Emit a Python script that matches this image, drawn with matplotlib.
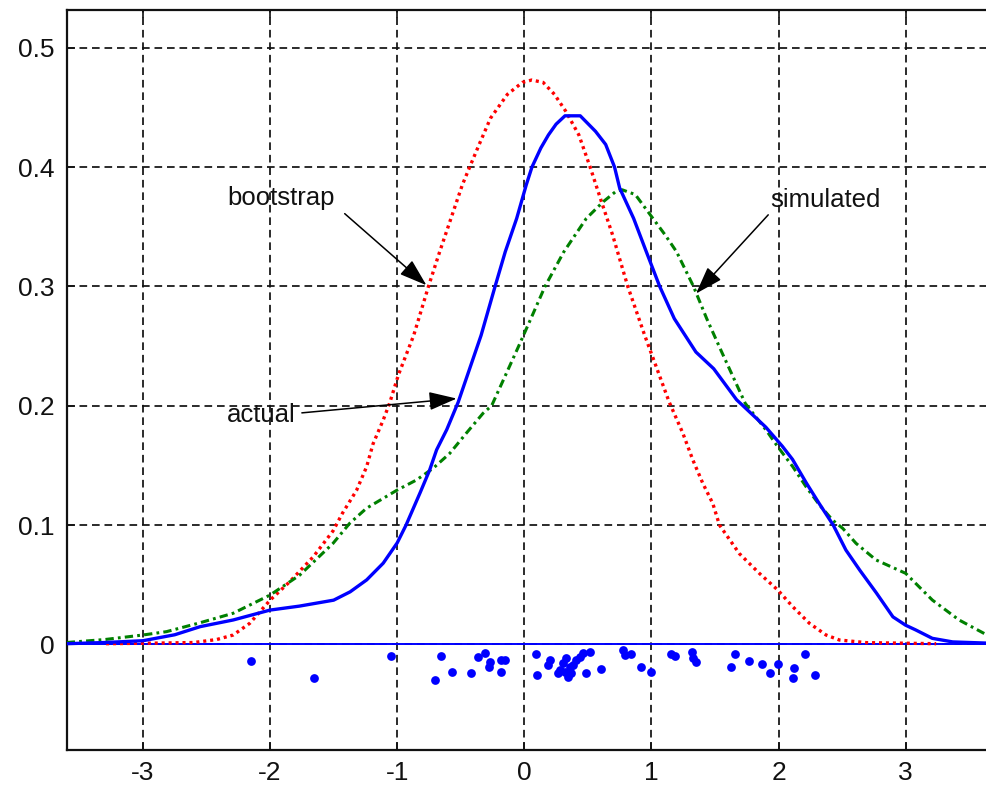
import matplotlib
matplotlib.use("Agg")
import matplotlib.pyplot as plt

plt.rcParams['font.family'] = ['Liberation Sans', 'DejaVu Sans']
plt.rcParams['axes.unicode_minus'] = False
plt.rcParams['lines.scale_dashes'] = False

# ---- data ----
actual_x = [-3.6, -3.3, -3.0, -2.75, -2.55, -2.29, -2.0, -1.77, -1.5, -1.37, -1.24, -1.11,
            -1.0, -0.93, -0.82, -0.745, -0.69, -0.61, -0.52, -0.43, -0.34, -0.23, -0.15,
            -0.06, 0.015, 0.06, 0.13, 0.19, 0.25, 0.32, 0.44, 0.56, 0.64, 0.71, 0.75, 0.86,
            0.96, 1.065, 1.18, 1.35, 1.49, 1.67, 1.90, 2.03, 2.11, 2.22, 2.32, 2.43, 2.53,
            2.64, 2.77, 2.90, 3.0, 3.08, 3.21, 3.37, 3.64]
actual_y = [0.0005, 0.0015, 0.003, 0.008, 0.0148, 0.0204, 0.0287, 0.032, 0.037, 0.044, 0.054,
            0.068, 0.085, 0.1, 0.127, 0.146, 0.163, 0.18, 0.203, 0.231, 0.259, 0.3, 0.329,
            0.357, 0.385, 0.4, 0.416, 0.427, 0.436, 0.443, 0.443, 0.43, 0.419, 0.4, 0.3825,
            0.357, 0.329, 0.3, 0.273, 0.245, 0.231, 0.205, 0.182, 0.166, 0.155, 0.135, 0.118,
            0.1, 0.079, 0.062, 0.043, 0.023, 0.016, 0.012, 0.005, 0.002, 0.001]

boot_x = [-3.29, -2.9, -2.6, -2.42, -2.29, -2.16, -2.0, -1.845, -1.66, -1.505, -1.43, -1.32,
          -1.24, -1.19, -1.11, -1.06, -0.99, -0.87, -0.754, -0.666, -0.577, -0.488, -0.43,
          -0.355, -0.266, -0.133, -0.015, 0.059, 0.148, 0.237, 0.325, 0.429, 0.518, 0.607,
          0.695, 0.814, 0.947, 1.14, 1.247, 1.326, 1.404, 1.483, 1.535, 1.692, 1.849, 1.994,
          2.112, 2.243, 2.374, 2.479, 2.69, 2.95, 3.24]
boot_y = [0.0005, 0.001, 0.0015, 0.004, 0.0078, 0.0176, 0.037, 0.0525, 0.0734, 0.095, 0.11,
          0.129, 0.149, 0.168, 0.188, 0.202, 0.226, 0.259, 0.3, 0.329, 0.357, 0.385, 0.4,
          0.419, 0.441, 0.461, 0.471, 0.473, 0.471, 0.461, 0.447, 0.427, 0.4, 0.371, 0.343,
          0.3, 0.259, 0.203, 0.177, 0.1545, 0.135, 0.118, 0.1, 0.076, 0.0595, 0.0455, 0.0315,
          0.0176, 0.0078, 0.0036, 0.0014, 0.001, 0.0005]

sim_x = [-3.6, -3.3, -3.0, -2.815, -2.553, -2.291, -2.0, -1.767, -1.505, -1.374, -1.242,
         -1.0, -0.849, -0.718, -0.587, -0.456, -0.325, -0.257, -0.163, -0.044, 0.06, 0.163,
         0.311, 0.488, 0.621, 0.725, 0.77, 0.873, 0.991, 1.109, 1.198, 1.331, 1.435, 1.553,
         1.738, 1.902, 1.994, 2.112, 2.217, 2.322, 2.426, 2.505, 2.61, 2.767, 3.0, 3.21,
         3.42, 3.64]
sim_y = [0.0015, 0.004, 0.0078, 0.0106, 0.018, 0.026, 0.0413, 0.058, 0.0846, 0.1014, 0.114,
         0.1293, 0.1377, 0.1475, 0.16, 0.177, 0.1936, 0.2, 0.222, 0.25, 0.275, 0.3, 0.329,
         0.357, 0.371, 0.38, 0.381, 0.377, 0.36, 0.343, 0.329, 0.3, 0.273, 0.245, 0.202,
         0.1796, 0.1656, 0.1489, 0.132, 0.1168, 0.104, 0.0972, 0.0846, 0.0707, 0.0595,
         0.0371, 0.0204, 0.0078]

sample_x = [-2.152, -1.654, -1.046, -0.705, -0.653, -0.566, -0.417, -0.365, -0.312, -0.278,
            -0.273, -0.181, -0.155, -0.181, 0.094, 0.099, 0.199, 0.186, 0.264, 0.278, 0.303,
            0.330, 0.317, 0.343, 0.356, 0.369, 0.382, 0.409, 0.435, 0.461, 0.513, 0.487,
            0.605, 0.775, 0.789, 0.841, 0.920, 0.998, 1.156, 1.189, 1.321, 1.325, 1.352,
            1.627, 1.657, 1.766, 1.866, 1.934, 1.994, 2.125, 2.117, 2.211, 2.290]
sample_y = [-0.0137, -0.028, -0.0098, -0.0299, -0.0098, -0.023, -0.0243, -0.0109, -0.0075,
            -0.0188, -0.0146, -0.0132, -0.0132, -0.023, -0.0081, -0.0257, -0.0132, -0.0174,
            -0.0243, -0.0215, -0.0159, -0.0117, -0.023, -0.0272, -0.0188, -0.0243, -0.0174,
            -0.0132, -0.0104, -0.0075, -0.0062, -0.0243, -0.021, -0.0048, -0.009, -0.0081,
            -0.0193, -0.023, -0.0081, -0.0098, -0.0062, -0.0117, -0.0146, -0.0188, -0.0079,
            -0.0137, -0.0168, -0.0243, -0.0168, -0.0201, -0.0285, -0.0081, -0.0257]

xticks = [-3, -2, -1, 0, 1, 2, 3]
xtick_labels = ['-3', '-2', '-1', '0', '1', '2', '3']
yticks = [0, 0.1, 0.2, 0.3, 0.4, 0.5]
ytick_labels = ['0', '0.1', '0.2', '0.3', '0.4', '0.5']

labels = ['bootstrap', 'simulated', 'actual']
label_pos = [(-2.340, 0.368), (1.934, 0.3665), (-2.343, 0.1866)]
arrow_start = [(-1.413, 0.361), (1.919, 0.360), (-1.750, 0.194)]
arrow_tip = [(-0.770, 0.301), (1.351, 0.294), (-0.532, 0.206)]

# ---- figure ----
W, H = 987, 787
fig = plt.figure(figsize=(W / 100, H / 100), dpi=100)
ax = fig.add_axes([66.7 / W, 37 / H, (W - 66.7) / W, 740 / H])

ax.set_xlim(-3.6, 3.64)
ax.set_ylim(-0.0886, 0.5317)

ax.grid(True, color='#111111', linestyle=(0, (5.5, 3.5)), linewidth=1.25)
ax.set_axisbelow(True)

ax.axhline(0, color='#0000ff', linewidth=1.4, zorder=2)
ax.plot(boot_x, boot_y, color='#ff0000', linewidth=2.4, linestyle=(0, (2.2, 2.8)), zorder=3)
ax.plot(sim_x, sim_y, color='#008000', linewidth=2.2, linestyle=(0, (6, 3, 2, 3)), zorder=3)
ax.plot(actual_x, actual_y, color='#0000ff', linewidth=2.4, zorder=4)
ax.plot(sample_x, sample_y, linestyle='none', marker='o', markersize=6.3,
        color='#0000ff', markeredgewidth=0, zorder=5)

for lab, (tx, ty), s, t in zip(labels, label_pos, arrow_start, arrow_tip):
    ax.text(tx, ty, lab, fontsize=18.5, color='#111111', ha='left', va='baseline', zorder=6)
    ax.annotate('', xy=t, xytext=s,
                arrowprops=dict(arrowstyle='-|>,head_length=0.9,head_width=0.3',
                                color='black', lw=1.1, shrinkA=0, shrinkB=0,
                                mutation_scale=19), zorder=6)

ax.set_xticks(xticks)
ax.set_xticklabels(xtick_labels)
ax.set_yticks(yticks)
ax.set_yticklabels(ytick_labels)
ax.tick_params(axis='both', direction='in', length=6, width=1.2, labelsize=19,
               colors='#111111', top=True, right=False)
ax.tick_params(axis='x', pad=8)
ax.tick_params(axis='y', pad=9)

for side in ['left', 'top', 'bottom']:
    ax.spines[side].set_linewidth(1.6)
    ax.spines[side].set_color('#111111')
ax.spines['right'].set_visible(False)

fig.savefig('out.png', dpi=100)
